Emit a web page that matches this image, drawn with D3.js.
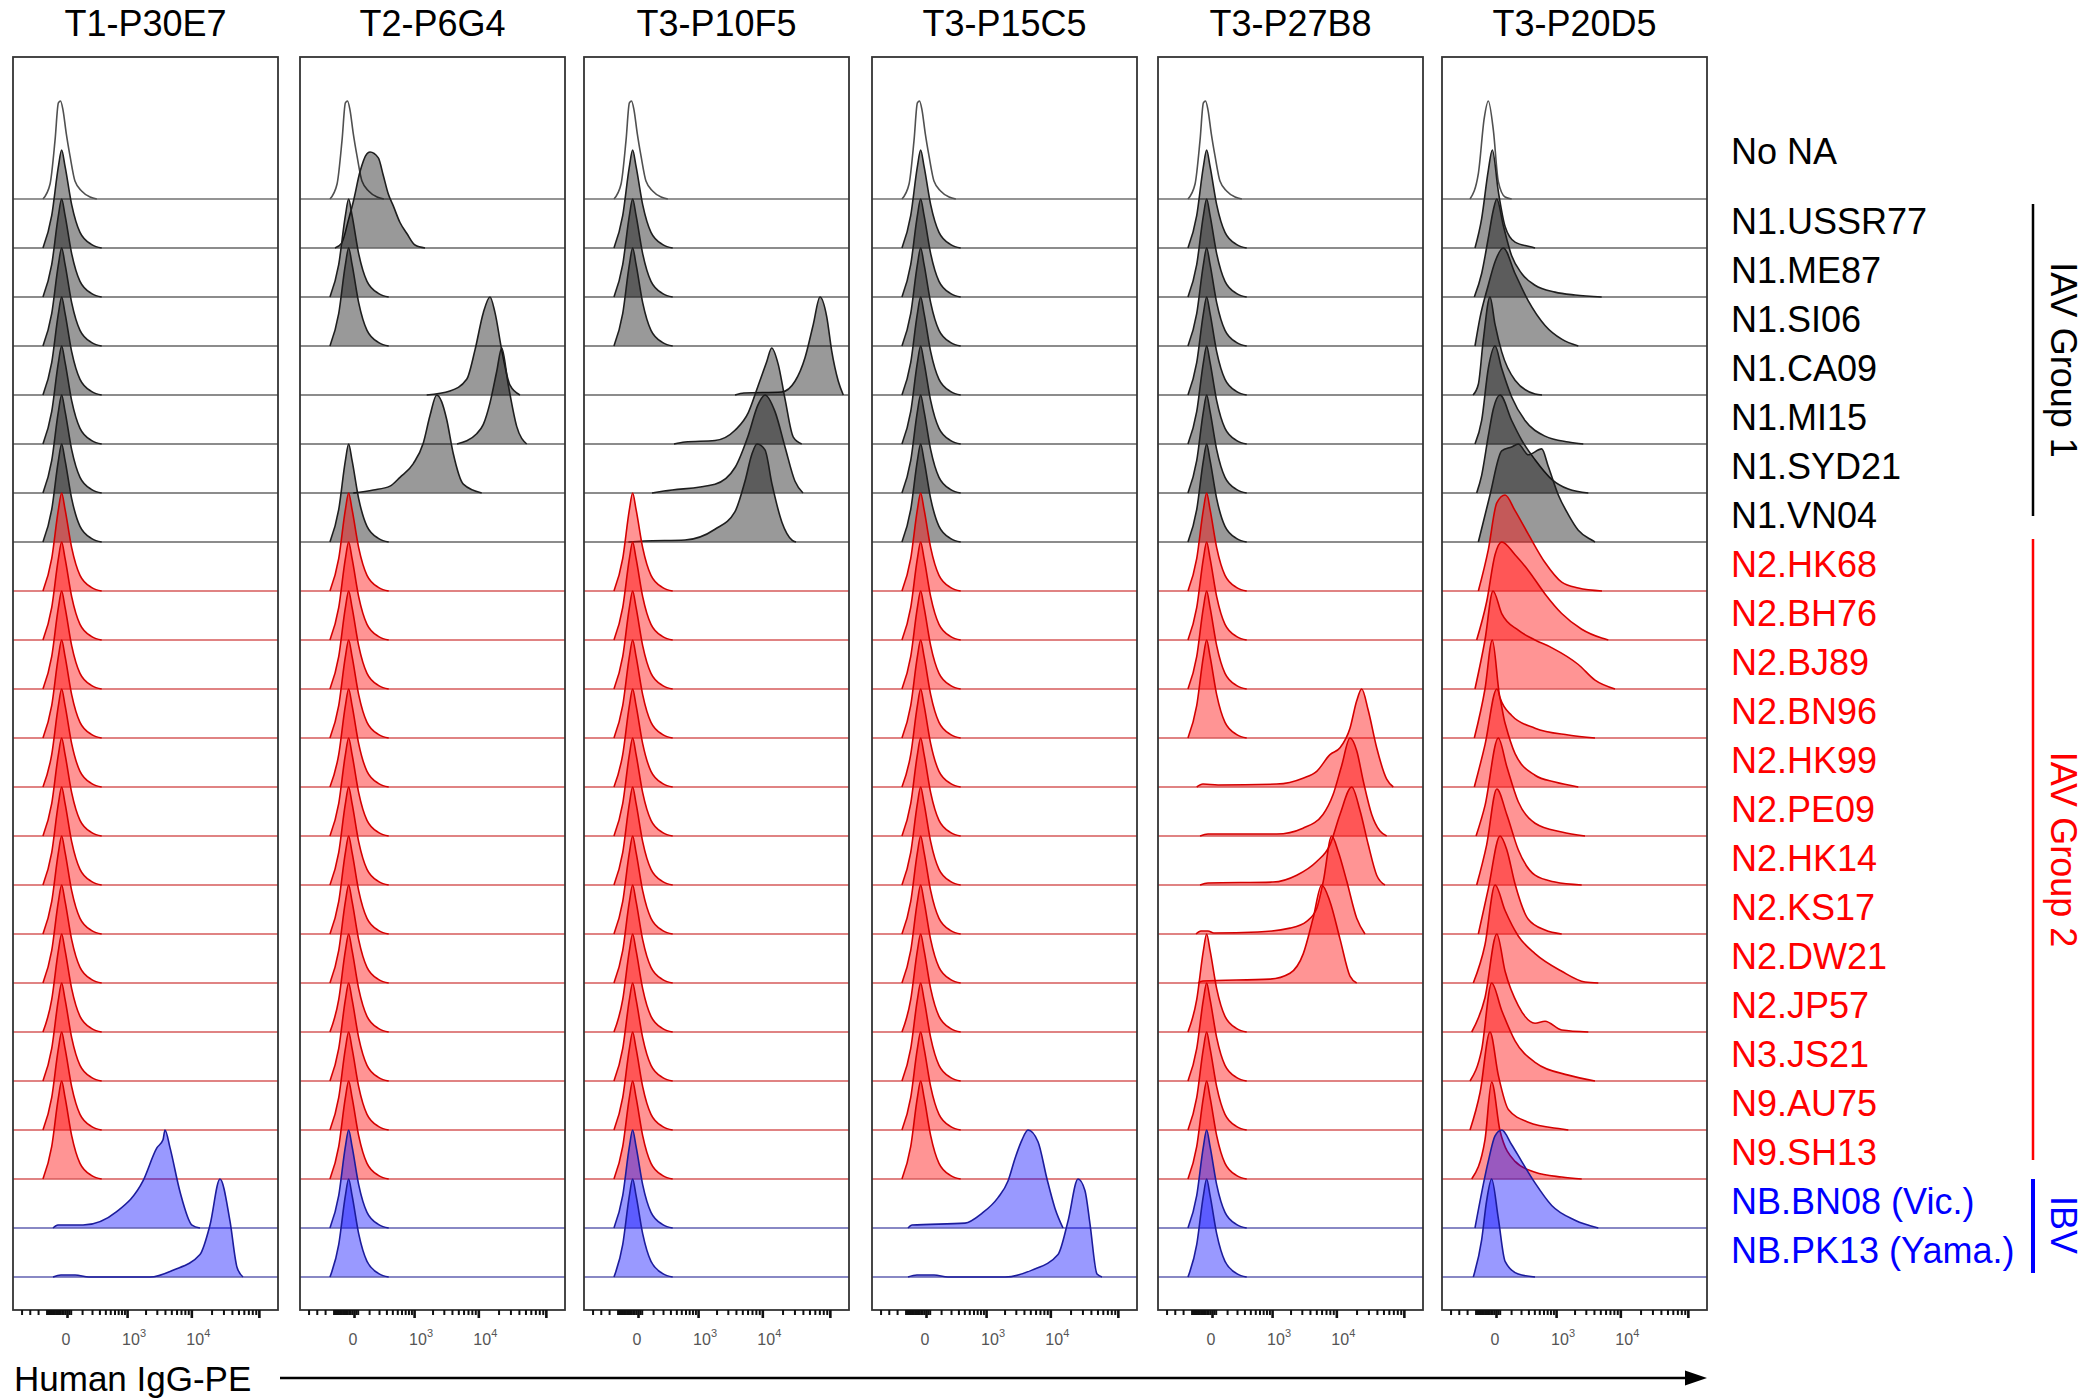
<!DOCTYPE html>
<html><head><meta charset="utf-8">
<script src="https://cdn.jsdelivr.net/npm/d3@7"></script>
<style>
body{margin:0;background:#fff;}
svg{display:block;}
text{font-family:"Liberation Sans",Arial,Helvetica,sans-serif;}
</style>
</head><body>
<svg id="chart" width="2100" height="1400"></svg>
<script>
// ---------------- data ----------------
const antibodies = ["T1-P30E7","T2-P6G4","T3-P10F5","T3-P15C5","T3-P27B8","T3-P20D5"];
const strains = ["No NA","N1.USSR77","N1.ME87","N1.SI06","N1.CA09","N1.MI15","N1.SYD21","N1.VN04",
  "N2.HK68","N2.BH76","N2.BJ89","N2.BN96","N2.HK99","N2.PE09","N2.HK14","N2.KS17","N2.DW21","N2.JP57",
  "N3.JS21","N9.AU75","N9.SH13","NB.BN08 (Vic.)","NB.PK13 (Yama.)"];
const strainGroup = ["ctrl","g1","g1","g1","g1","g1","g1","g1",
  "g2","g2","g2","g2","g2","g2","g2","g2","g2","g2","g2","g2","g2","ibv","ibv"];
const groupNames = ["IAV Group 1","IAV Group 2","IBV"];
const groupFirstRow = [1, 8, 21];
const groupLastRow = [7, 20, 22];

const majorTicks = [0, 1e3, 1e4, 1e5];
const tickLabelValues = [0, 1e3, 1e4];
const tickLabelBase = ["0","10","10"];
const tickLabelExp = ["","3","4"];
const negativeMinorTicks = [-550, -380, -250];

// histogram points: [fluorescence value, height relative to the modal peak]
const negNarrow = [[-189,0],[-117,0.15],[-75,0.6],[-51,0.98],[-37,1],[-22,0.91],[-4,0.67],[16,0.44],[47,0.18],[98,0.08],[178,0.02],[262,0]];
const negBroad  = [[-189,0],[-102,0.33],[-51,0.83],[-30,1],[-10,0.83],[26,0.44],[83,0.16],[197,0.035],[336,0]];

// T1-P30E7
const p1_BN08 = [[-91,0],[-54,0.03],[108,0.03],[667,0.17],[1822,0.48],[3021,0.82],[3735,0.9],[4007,1],[4776,0.82],[6765,0.37],[10230,0.03],[13460,0]];
const p1_PK13 = [[-91,0],[-34,0.02],[47,0.02],[166,0],[2350,0],[5300,0.07],[13460,0.23],[18960,0.53],[26670,1],[37500,0.57],[47600,0.1],[58330,0]];
// T2-P6G4
const p2_USSR77 = [[-136,0],[-78,0.05],[-29,0.3],[-4,0.47],[34,0.78],[81,0.96],[108,0.98],[192,0.92],[255,0.74],[330,0.55],[418,0.43],[563,0.26],[745,0.15],[1035,0.03],[1515,0]];
const p2_CA09 = [[1613,0],[3735,0.04],[6690,0.16],[8918,0.46],[11870,0.84],[14930,1],[17710,0.84],[22270,0.46],[29550,0.1],[41520,0]];
const p2_MI15 = [[4776,0],[9450,0.105],[11870,0.2],[14930,0.42],[18770,0.74],[22270,0.98],[27900,0.6],[37110,0.18],[52140,0]];
const p2_SYD21 = [[-4,0],[139,0.03],[358,0.07],[563,0.16],[970,0.3],[1422,0.51],[1822,0.79],[2325,1],[2782,0.93],[3323,0.75],[4195,0.4],[5949,0.09],[11230,0]];
// T3-P10F5
const p3_CA09 = [[3870,0],[5300,0.02],[19420,0.03],[30570,0.14],[42960,0.38],[56940,0.72],[71540,1],[89840,0.8],[106440,0.45],[133190,0.14],[157770,0]];
const p3_MI15 = [[358,0],[588,0.02],[1890,0.035],[3870,0.14],[6160,0.32],[8705,0.6],[11620,0.84],[13790,0.98],[17290,0.81],[21740,0.46],[28850,0.07],[38390,0]];
const p3_SYD21 = [[91,0],[212,0.02],[1890,0.09],[3870,0.26],[6094,0.58],[8610,0.9],[10960,1],[15450,0.83],[21740,0.47],[30570,0.12],[40130,0]];
const p3_VN04 = [[-58,0],[34,0.01],[588,0.02],[1890,0.13],[3870,0.31],[5490,0.62],[7000,0.9],[8325,1],[10960,0.94],[13940,0.59],[19620,0.2],[27600,0.02],[31640,0]];
// T3-P15C5
const p4_BN08 = [[-126,0],[-91,0.03],[413,0.05],[851,0.15],[1572,0.31],[2267,0.48],[2915,0.71],[3735,0.9],[4611,1],[6534,0.88],[8918,0.5],[11745,0.2],[15450,0]];
const p4_PK13 = [[-126,0],[-54,0.02],[47,0.02],[166,0],[2034,0],[5300,0.07],[13020,0.23],[18330,0.57],[25800,1],[32730,0.88],[38810,0.54],[49250,0.03],[58330,0]];
// T3-P27B8
const p5_HK99 = [[-102,0],[-54,0.03],[34,0.02],[1194,0.03],[3129,0.09],[5067,0.16],[8040,0.33],[11340,0.4],[15980,0.6],[20100,0.88],[23850,1],[29850,0.78],[39720,0.4],[55800,0.08],[69900,0]];
const p5_PE09 = [[-75,0],[-22,0.02],[1194,0.02],[3129,0.08],[6310,0.22],[8918,0.42],[12030,0.72],[15980,1],[20100,0.87],[25170,0.56],[33520,0.22],[44450,0.05],[55800,0]];
const p5_HK14 = [[-75,0],[-22,0.02],[1035,0.03],[2500,0.1],[5067,0.24],[8040,0.41],[11340,0.72],[16950,1],[22490,0.76],[29850,0.41],[39720,0.1],[52650,0]];
const p5_KS17 = [[-108,0],[-68,0.03],[-22,0.03],[10,0.01],[563,0.02],[1960,0.06],[3567,0.13],[5067,0.26],[6380,0.54],[8525,1],[10700,0.84],[14280,0.54],[20100,0.16],[26670,0]];
const p5_DW21 = [[-91,0],[-54,0.02],[921,0.04],[1960,0.1],[3162,0.3],[4500,0.67],[6030,1],[8040,0.83],[11340,0.45],[15980,0.07],[20100,0]];
// T3-P20D5
const p6_NoNA = [[-212,0],[-123,0.26],[-73,0.83],[-45,1],[-14,0.7],[12,0.18],[54,0.02],[105,0]];
const p6_USSR77 = [[-156,0],[-94,0.3],[-45,0.79],[-20,1],[12,0.58],[54,0.22],[136,0.06],[353,0.01],[413,0]];
const p6_ME87 = [[-163,0],[-94,0.24],[-45,0.6],[-14,0.89],[4,1],[42,0.73],[105,0.42],[208,0.24],[413,0.12],[958,0.05],[2034,0.02],[5247,0]];
const p6_SI06 = [[-156,0],[-108,0.29],[-45,0.62],[-5,0.86],[42,1],[136,0.74],[298,0.46],[640,0.21],[1241,0.07],[2292,0]];
const p6_CA09 = [[-177,0],[-123,0.11],[-81,0.56],[-34,1],[-5,0.72],[32,0.44],[136,0.15],[413,0.01],[563,0]];
const p6_MI15 = [[-156,0],[-94,0.24],[-45,0.77],[-5,1],[32,0.77],[105,0.48],[251,0.24],[640,0.08],[1590,0.02],[2742,0]];
const p6_SYD21 = [[-139,0],[-94,0.18],[-45,0.58],[-14,0.86],[22,1],[105,0.74],[208,0.54],[413,0.34],[841,0.14],[1590,0.04],[3277,0]];
const p6_VN04 = [[-123,0],[-34,0.48],[32,0.93],[105,0.97],[169,1],[298,0.89],[556,0.95],[733,0.77],[1090,0.48],[1590,0.28],[2292,0.12],[3696,0.02],[4150,0]];
const p6_HK68 = [[-123,0],[-45,0.42],[4,0.9],[54,0.98],[136,0.82],[298,0.58],[640,0.29],[1241,0.09],[2292,0.03],[5300,0]];
const p6_BH76 = [[-139,0],[-56,0.39],[-5,0.87],[32,1],[136,0.87],[298,0.71],[640,0.47],[1241,0.27],[2590,0.11],[5247,0.02],[6600,0]];
const p6_BJ89 = [[-156,0],[-68,0.5],[-16,1],[32,0.77],[169,0.6],[413,0.5],[851,0.42],[2292,0.25],[4150,0.09],[8325,0]];
const p6_BN96 = [[-163,0],[-68,0.5],[-20,1],[22,0.41],[105,0.23],[413,0.1],[1590,0.03],[4150,0]];
const p6_HK99 = [[-163,0],[-68,0.43],[4,1],[54,0.65],[136,0.34],[413,0.12],[958,0.05],[2292,0]];
const p6_PE09 = [[-145,0],[-68,0.31],[12,1],[66,0.71],[169,0.35],[413,0.13],[1241,0.04],[2915,0]];
const p6_HK14 = [[-139,0],[-56,0.41],[4,0.98],[66,0.72],[169,0.36],[413,0.1],[958,0.03],[2590,0]];
const p6_KS17 = [[-123,0],[-45,0.46],[22,1],[66,0.86],[136,0.51],[298,0.15],[640,0.04],[1241,0]];
const p6_DW21 = [[-174,0],[-68,0.39],[-5,1],[54,0.74],[169,0.48],[413,0.3],[1241,0.12],[2915,0.01],[4659,0]];
const p6_JP57 = [[-192,0],[-68,0.35],[4,1],[54,0.62],[169,0.27],[413,0.09],[640,0.11],[1241,0.02],[3277,0]];
const p6_JS21 = [[-212,0],[-94,0.32],[-24,1],[32,0.72],[136,0.41],[413,0.19],[1590,0.06],[4150,0]];
const p6_AU75 = [[-212,0],[-108,0.38],[-34,1],[12,0.56],[78,0.21],[298,0.08],[1241,0.01],[1590,0]];
const p6_SH13 = [[-192,0],[-68,0.4],[-24,0.99],[22,0.49],[136,0.18],[413,0.07],[1241,0.02],[2590,0]];
const p6_BN08 = [[-156,0],[-45,0.68],[-5,0.94],[32,1],[105,0.85],[208,0.68],[413,0.46],[841,0.23],[2034,0.08],[4659,0]];
const p6_PK13 = [[-174,0],[-94,0.38],[-56,0.78],[-24,1],[12,0.6],[54,0.16],[169,0.03],[413,0]];

// one list per antibody, in the order of `strains`
const T1_P30E7 = [negNarrow, negBroad,negBroad,negBroad,negBroad,negBroad,negBroad,negBroad,
  negBroad,negBroad,negBroad,negBroad,negBroad,negBroad,negBroad,negBroad,negBroad,negBroad,
  negBroad,negBroad,negBroad, p1_BN08, p1_PK13];
const T2_P6G4 = [negNarrow, p2_USSR77, negBroad, negBroad, p2_CA09, p2_MI15, p2_SYD21, negBroad,
  negBroad,negBroad,negBroad,negBroad,negBroad,negBroad,negBroad,negBroad,negBroad,negBroad,
  negBroad,negBroad,negBroad, negBroad, negBroad];
const T3_P10F5 = [negNarrow, negBroad, negBroad, negBroad, p3_CA09, p3_MI15, p3_SYD21, p3_VN04,
  negBroad,negBroad,negBroad,negBroad,negBroad,negBroad,negBroad,negBroad,negBroad,negBroad,
  negBroad,negBroad,negBroad, negBroad, negBroad];
const T3_P15C5 = [negNarrow, negBroad,negBroad,negBroad,negBroad,negBroad,negBroad,negBroad,
  negBroad,negBroad,negBroad,negBroad,negBroad,negBroad,negBroad,negBroad,negBroad,negBroad,
  negBroad,negBroad,negBroad, p4_BN08, p4_PK13];
const T3_P27B8 = [negNarrow, negBroad,negBroad,negBroad,negBroad,negBroad,negBroad,negBroad,
  negBroad,negBroad,negBroad,negBroad, p5_HK99, p5_PE09, p5_HK14, p5_KS17, p5_DW21, negBroad,
  negBroad,negBroad,negBroad, negBroad, negBroad];
const T3_P20D5 = [p6_NoNA, p6_USSR77, p6_ME87, p6_SI06, p6_CA09, p6_MI15, p6_SYD21, p6_VN04,
  p6_HK68, p6_BH76, p6_BJ89, p6_BN96, p6_HK99, p6_PE09, p6_HK14, p6_KS17, p6_DW21, p6_JP57,
  p6_JS21, p6_AU75, p6_SH13, p6_BN08, p6_PK13];
const panelData = [T1_P30E7, T2_P6G4, T3_P10F5, T3_P15C5, T3_P27B8, T3_P20D5];

// ---------------- layout / style ----------------
const panelLeft = [13, 300, 584, 872, 1158, 1442];
const PW = 265, frameTop = 57, frameBottom = 1310;
const base0 = 199, rowStep = 49, peakH = 98;
const rowBase = r => base0 + r * rowStep;

const styles = {
  ctrl: {fill:"none", stroke:"#505050", base:"#707070", text:"#000"},
  g1:   {fill:"rgba(0,0,0,0.40)", stroke:"#1e1e1e", base:"#666666", text:"#000"},
  g2:   {fill:"rgba(255,0,0,0.42)", stroke:"#d40000", base:"#d65a5a", text:"#ff0000"},
  ibv:  {fill:"rgba(0,0,255,0.40)", stroke:"#1c1c9c", base:"#6060b0", text:"#0000ff"}
};
const groupColor = ["#000000", "#ff0000", "#0000ff"];
const groupLineWidth = [2.5, 2.5, 4];

const x = d3.scaleSymlog().constant(150).domain([-786, 191500]).range([0, PW]);

const svg = d3.select("#chart");
svg.append("rect").attr("width",2100).attr("height",1400).attr("fill","#fff");

const defs = svg.append("defs");

panelData.forEach((rows, p) => {
  const g = svg.append("g").attr("transform", `translate(${panelLeft[p]},0)`);
  const clipId = "clip" + p;
  defs.append("clipPath").attr("id", clipId)
    .append("rect").attr("x",0).attr("y",frameTop).attr("width",PW).attr("height",frameBottom-frameTop);

  // title
  svg.append("text").attr("x", panelLeft[p] + PW/2).attr("y", 36)
    .attr("text-anchor","middle").attr("font-size", 36).attr("fill","#000")
    .text(antibodies[p]);

  const plot = g.append("g").attr("clip-path", `url(#${clipId})`);

  rows.forEach((pts, r) => {
    const st = styles[strainGroup[r]];
    const y = d3.scaleLinear().domain([0,1]).range([rowBase(r), rowBase(r) - peakH]);
    const area = d3.area().x(d => x(d[0])).y0(rowBase(r)).y1(d => y(d[1])).curve(d3.curveMonotoneX);
    const line = d3.line().x(d => x(d[0])).y(d => y(d[1])).curve(d3.curveMonotoneX);
    if (st.fill !== "none") {
      plot.append("path").attr("d", area(pts)).attr("fill", st.fill).attr("stroke","none");
    }
    plot.append("line").attr("x1",0).attr("x2",PW).attr("y1",rowBase(r)).attr("y2",rowBase(r))
      .attr("stroke", st.base).attr("stroke-width", 1.4);
    plot.append("path").attr("d", line(pts)).attr("fill","none")
      .attr("stroke", st.stroke).attr("stroke-width", 1.6).attr("stroke-linejoin","round");
  });

  // frame
  g.append("rect").attr("x",0).attr("y",frameTop).attr("width",PW).attr("height",frameBottom-frameTop)
    .attr("fill","none").attr("stroke","#333").attr("stroke-width",1.8);

  // axis ticks
  const minorPos = d3.range(1,10).map(m => m*100)
    .concat(d3.range(2,10).map(m => m*1e3)).concat(d3.range(2,10).map(m => m*1e4))
    .concat(negativeMinorTicks).concat(d3.range(-150, 25, 10).filter(v => v !== 0));
  const minorAxis = d3.axisBottom(x).tickValues(minorPos).tickSize(5).tickFormat("");
  const majorAxis = d3.axisBottom(x).tickValues(majorTicks).tickSize(8).tickFormat("");
  const ag = g.append("g").attr("transform", `translate(0,${frameBottom})`);
  ag.append("g").attr("class","minor").call(minorAxis);
  ag.append("g").attr("class","major").call(majorAxis);
  ag.selectAll(".domain").remove();
  ag.selectAll(".minor .tick line").attr("stroke","#111").attr("stroke-width",2);
  ag.selectAll(".major .tick line").attr("stroke","#111").attr("stroke-width",2.6);

  // tick labels
  tickLabelValues.forEach((v, i) => {
    const hasExp = tickLabelExp[i] !== "";
    const t = g.append("text").attr("x", hasExp ? x(v) - 5 : x(v) - 1).attr("y", 1345)
      .attr("text-anchor", hasExp ? "start" : "middle")
      .attr("font-family", "'DejaVu Sans', sans-serif")
      .attr("font-size",16).attr("fill","#555");
    t.append("tspan").text(tickLabelBase[i]);
    if (hasExp) {
      t.append("tspan").attr("dy",-8).attr("font-size",11).text(tickLabelExp[i]);
    }
  });
});

// row labels
strains.forEach((s, r) => {
  const st = styles[strainGroup[r]];
  svg.append("text").attr("x", 1731).attr("y", r === 0 ? rowBase(0) - 35 : rowBase(r) - 14)
    .attr("font-size", 36).attr("fill", st.text).text(s);
});

// group brackets
const groupLineTop = [204, 539, 1179];
const groupLineBottom = [516, 1160, 1273];
groupNames.forEach((name, i) => {
  svg.append("line").attr("x1",2033).attr("x2",2033)
    .attr("y1", groupLineTop[i]).attr("y2", groupLineBottom[i])
    .attr("stroke", groupColor[i]).attr("stroke-width", groupLineWidth[i]);
  const cy = (groupLineTop[i] + groupLineBottom[i]) / 2 + (i === 2 ? -1 : 0);
  svg.append("text").attr("transform", `translate(2051,${cy}) rotate(90)`)
    .attr("text-anchor","middle").attr("font-size",36).attr("fill", groupColor[i]).text(name);
});

// x-axis title with arrow
svg.append("text").attr("x", 14).attr("y", 1391).attr("font-size", 35).attr("fill","#000").text("Human IgG-PE");
svg.append("line").attr("x1", 280).attr("x2", 1690).attr("y1", 1378).attr("y2", 1378)
  .attr("stroke","#000").attr("stroke-width", 2.5);
svg.append("path").attr("d", d3.line()([[1707,1378],[1685,1370.5],[1685,1385.5]]) + "Z").attr("fill","#000");
</script>
</body></html>
